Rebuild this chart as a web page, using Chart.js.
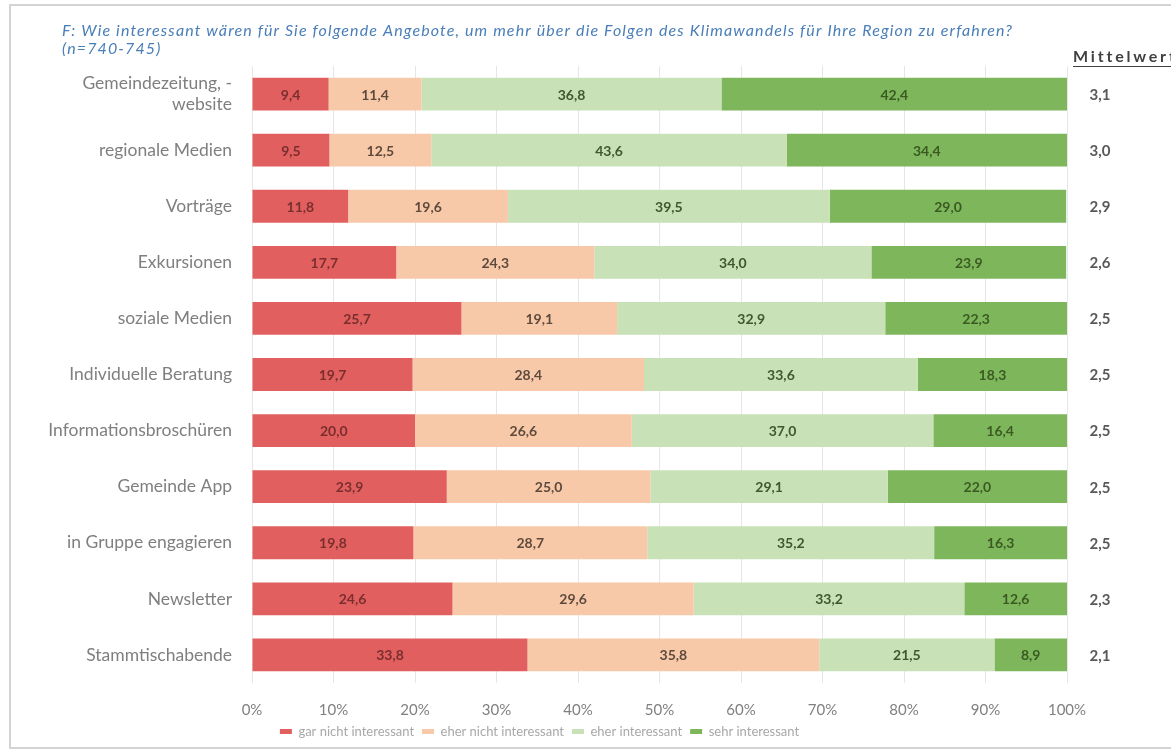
<!DOCTYPE html>
<html>
<head>
<meta charset="utf-8">
<script src="https://cdn.jsdelivr.net/npm/chart.js@4"></script>
<style>
  html, body { margin: 0; padding: 0; background: #fff; }
  #wrap { width: 1171px; height: 751px; position: relative; }
</style>
</head>
<body>
<div id="wrap"><canvas id="c" width="1171" height="751"></canvas></div>
<script>
const categories = [
  ['Gemeindezeitung, -', 'website'],
  'regionale Medien',
  'Vorträge',
  'Exkursionen',
  'soziale Medien',
  'Individuelle Beratung',
  'Informationsbroschüren',
  'Gemeinde App',
  'in Gruppe engagieren',
  'Newsletter',
  'Stammtischabende',
];
const seriesNames = ['gar nicht interessant', 'eher nicht interessant', 'eher interessant', 'sehr interessant'];
const garNicht = [9.4, 9.5, 11.8, 17.7, 25.7, 19.7, 20.0, 23.9, 19.8, 24.6, 33.8];
const eherNicht = [11.4, 12.5, 19.6, 24.3, 19.1, 28.4, 26.6, 25.0, 28.7, 29.6, 35.8];
const eherInteressant = [36.8, 43.6, 39.5, 34.0, 32.9, 33.6, 37.0, 29.1, 35.2, 33.2, 21.5];
const sehrInteressant = [42.4, 34.4, 29.0, 23.9, 22.3, 18.3, 16.4, 22.0, 16.3, 12.6, 8.9];
const mittelwerte = [3.1, 3.0, 2.9, 2.6, 2.5, 2.5, 2.5, 2.5, 2.5, 2.3, 2.1];
const xTicks = [0, 10, 20, 30, 40, 50, 60, 70, 80, 90, 100];

const title = [
  'F: Wie interessant wären für Sie folgende Angebote, um mehr über die Folgen des Klimawandels für Ihre Region zu erfahren?',
  '(n=740-745)',
];

const fillColors = ['#E1605F', '#F8C9A9', '#C8E1B6', '#7EB65B'];
const labelColors = ['#7A2E2E', '#5E4A3C', '#41572F', '#3A5A22'];
const fmt = (v) => v.toFixed(1).replace('.', ',');

const PAD_LEFT = 12;

// spread text so that it covers the given width
function spacingFor(ctx, text, width) {
  ctx.letterSpacing = '0px';
  const w = ctx.measureText(text).width;
  return Math.max(0, (width - w) / text.length);
}

// Draws frame, title, segment values and the Mittelwert column
const extras = {
  id: 'extras',
  beforeDraw(chart) {
    const ctx = chart.ctx;
    ctx.save();
    ctx.fillStyle = '#fff';
    ctx.fillRect(0, 0, chart.width, chart.height);
    ctx.strokeStyle = '#D4D4D4';
    ctx.lineWidth = 2;
    ctx.strokeRect(10, 5, chart.width + 20, chart.height - 8);
    ctx.restore();
  },
  afterDatasetsDraw(chart) {
    const ctx = chart.ctx;
    ctx.save();
    ctx.font = 'bold 14px Lato';
    ctx.textAlign = 'center';
    ctx.textBaseline = 'middle';
    chart.data.datasets.forEach((ds, di) => {
      const meta = chart.getDatasetMeta(di);
      meta.data.forEach((bar, i) => {
        const { x, base, y } = bar.getProps(['x', 'base', 'y'], true);
        ctx.fillStyle = labelColors[di];
        ctx.fillText(fmt(ds.data[i]), (x + base) / 2, y + 1);
      });
    });
    ctx.restore();
  },
  afterDraw(chart) {
    const ctx = chart.ctx;
    const yScale = chart.scales.y;
    ctx.save();
    ctx.textAlign = 'left';
    ctx.textBaseline = 'middle';
    // title
    ctx.font = 'italic 16px Lato';
    ctx.fillStyle = '#4A7EB8';
    const sp = spacingFor(ctx, title[0], 951);
    ctx.letterSpacing = sp + 'px';
    ctx.fillText(title[0], 62, 31);
    ctx.fillText(title[1], 62, 49);
    // Mittelwert header
    ctx.font = 'bold 16px Lato';
    ctx.fillStyle = '#404040';
    ctx.letterSpacing = spacingFor(ctx, 'Mittelwert', 104) + 'px';
    ctx.fillText('Mittelwert', 1073, 57);
    ctx.fillRect(1073, 66, 110, 1);
    ctx.letterSpacing = '0px';
    // means
    ctx.font = 'bold 15px Lato';
    ctx.fillStyle = '#595959';
    ctx.textAlign = 'center';
    mittelwerte.forEach((m, i) => {
      ctx.fillText(fmt(m), 1100, yScale.getPixelForValue(i) + 1);
    });
    ctx.restore();
  },
};

new Chart(document.getElementById('c'), {
  type: 'bar',
  data: {
    labels: categories,
    datasets: [garNicht, eherNicht, eherInteressant, sehrInteressant].map((d, i) => ({
      label: seriesNames[i],
      data: d,
      backgroundColor: fillColors[i],
      borderWidth: 0,
      barPercentage: 0.585,
      categoryPercentage: 1,
    })),
  },
  options: {
    indexAxis: 'y',
    responsive: false,
    animation: false,
    layout: { padding: { left: PAD_LEFT, right: 104, top: 66, bottom: 3 } },
    scales: {
      x: {
        stacked: true,
        min: 0,
        max: 100,
        afterBuildTicks(scale) {
          scale.ticks = xTicks.map((v) => ({ value: v }));
        },
        afterFit(scale) { scale.height = 34; },
        grid: { color: '#E6E6E6', drawTicks: false },
        border: { display: false },
        ticks: {
          padding: 18,
          color: '#808080',
          font: { family: 'Lato', size: 15 },
          callback: (v) => v + '%',
        },
      },
      y: {
        stacked: true,
        afterFit(scale) { scale.width = 252 - PAD_LEFT; },
        grid: { display: false },
        border: { display: false },
        ticks: {
          padding: 12,
          color: '#7F7F7F',
          font: { family: 'Lato', size: 17.5, lineHeight: 1.2 },
        },
      },
    },
    plugins: {
      legend: {
        position: 'bottom',
        labels: {
          boxWidth: 12,
          boxHeight: 5,
          padding: 8,
          color: '#A8A8A8',
          font: { family: 'Lato', size: 13 },
        },
      },
      tooltip: { enabled: false },
    },
  },
  plugins: [extras],
});
</script>
</body>
</html>
